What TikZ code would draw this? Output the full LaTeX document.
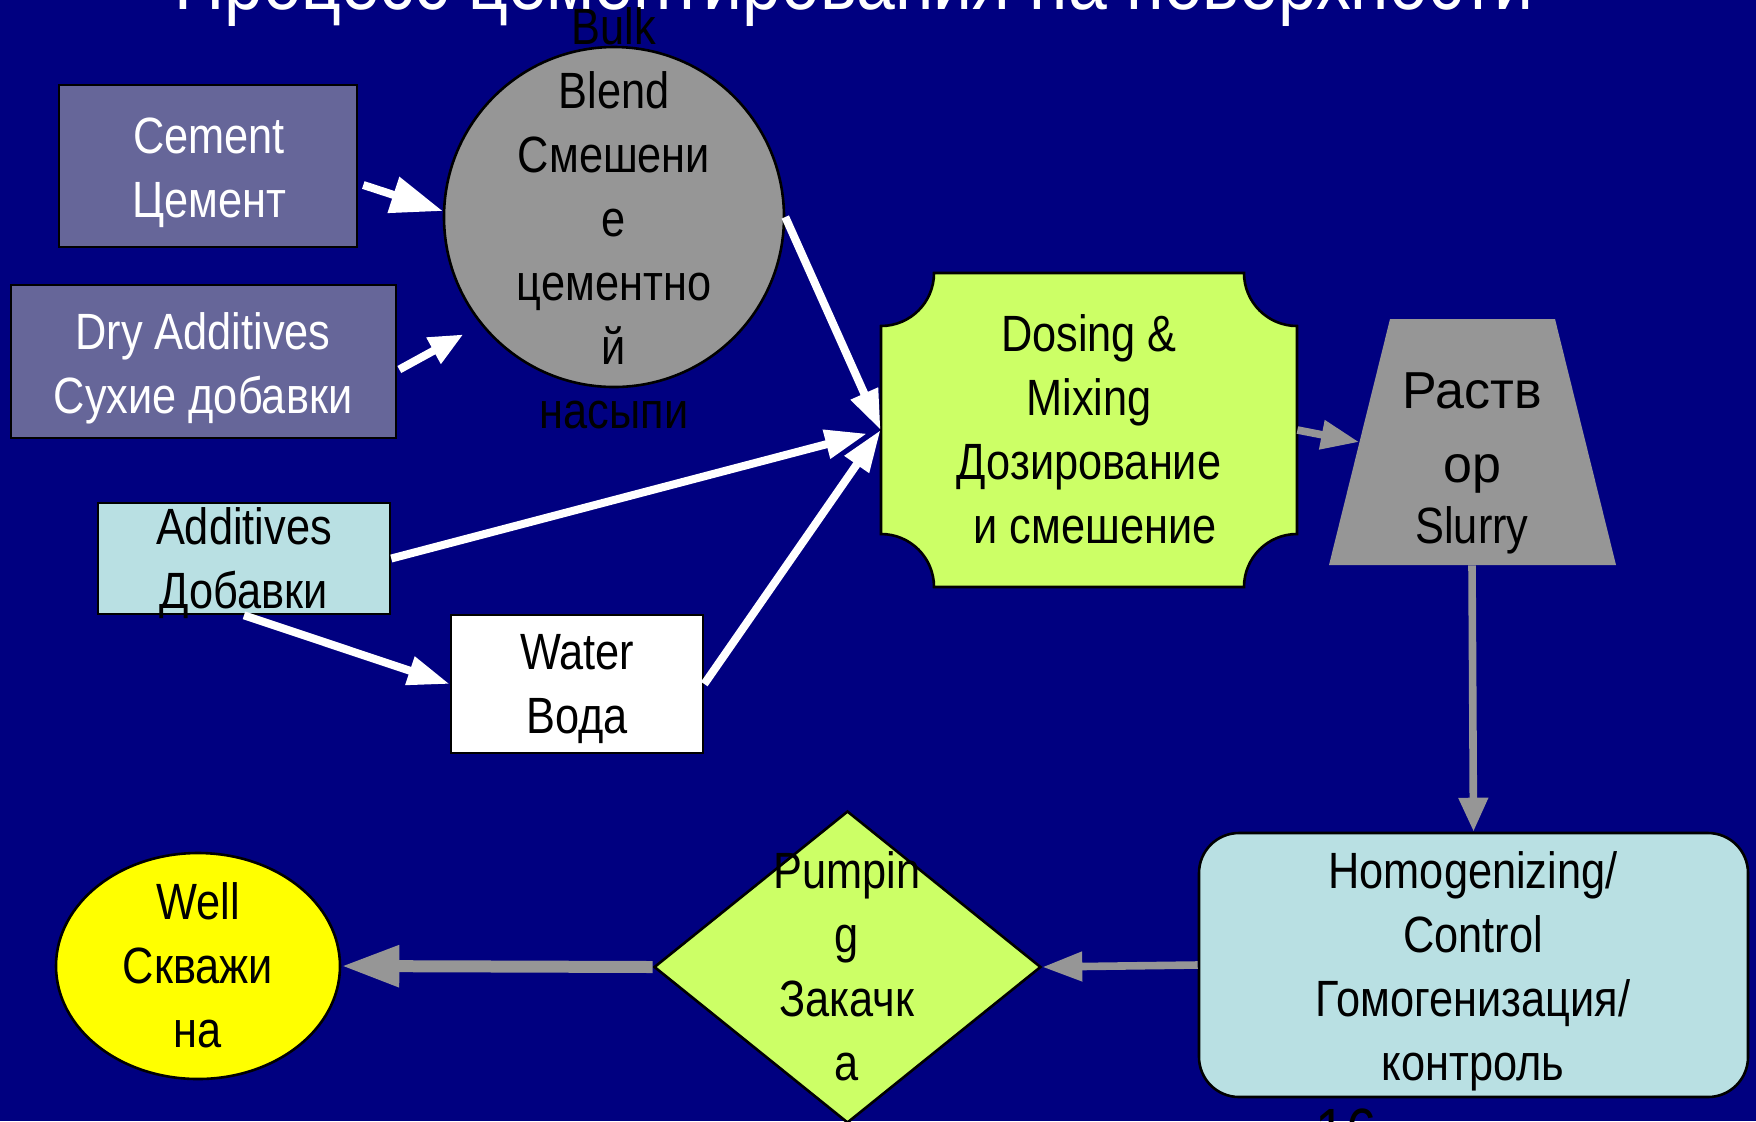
\documentclass[tikz,border=0pt]{standalone}
\usepackage{fontspec}
\setmainfont{Liberation Sans}[FakeStretch=0.85]
\newfontfamily\wideface{Liberation Sans}
\usetikzlibrary{shapes.geometric,arrows.meta,calc}
\definecolor{bgblue}{HTML}{000080}
\definecolor{slate}{HTML}{666699}
\definecolor{pale}{HTML}{B9E0E3}
\definecolor{lime}{HTML}{CCFF66}
\definecolor{gry}{HTML}{969696}
\definecolor{yel}{HTML}{FFFF00}
\newcommand\bodyfont{\fontsize{25.5pt}{32pt}\selectfont}
\begin{document}
\begin{tikzpicture}[x=0.5pt,y=-0.5pt,
  box/.style={draw=black,line width=1.3pt,inner sep=0pt},
  txt/.style={align=center,anchor=base,inner sep=0pt,font=\bodyfont},
  wline/.style={draw=white,line width=4pt},
  gline/.style={draw=gry,line width=3.8pt}]
\useasboundingbox (0,0) rectangle (1756,1121);
\clip (0,0) rectangle (1756,1121);
\fill[bgblue] (0,0) rectangle (1756,1121);

% shapes
\node[box,fill=slate,minimum width=149pt,minimum height=81pt] (cement) at (208,166) {};
\node[box,fill=slate,minimum width=192.5pt,minimum height=76.5pt] (dry) at (203.5,361.5) {};
\node[box,circle,fill=gry,minimum size=170pt] (blend) at (614,217) {};
\node[box,fill=pale,minimum width=146pt,minimum height=55.5pt] (additives) at (244,558.5) {};
\node[box,fill=white,minimum width=126pt,minimum height=69pt] (water) at (577,684) {};
\node[inner sep=0pt,minimum width=208pt,minimum height=157pt] (dosing) at (1089,430) {};
\filldraw[fill=lime,draw=black,line width=1.3pt]
  (934,273) -- (1244,273) arc[start angle=180,end angle=270,radius=26.5pt]
  -- (1297,534) arc[start angle=90,end angle=180,radius=26.5pt]
  -- (934,587) arc[start angle=0,end angle=90,radius=26.5pt]
  -- (881,326) arc[start angle=270,end angle=360,radius=26.5pt] -- cycle;
\node[inner sep=0pt,minimum width=112.5pt,minimum height=123pt] (slurry) at (1472,442) {};
\fill[gry] (1329,565) -- (1390,319) -- (1555,319) -- (1616,565) -- cycle;
\node[box,fill=pale,rounded corners=20pt,minimum width=274.5pt,minimum height=132pt] (homog) at (1473.5,965) {};
\node[box,diamond,fill=lime,minimum width=193.5pt,minimum height=156pt] (pump) at (847.5,967) {};
\node[box,ellipse,fill=yel,minimum width=142pt,minimum height=113pt] (well) at (198,966) {};

% texts (anchored at the baseline of the last line)
\node[anchor=base,inner sep=0pt,text=white,font=\fontsize{41pt}{49pt}\selectfont] (title) at (854,9) {Процесс цементирования на поверхности};
\node[txt,text=white] (cementT) at (209,217) {Cement\\Цемент};
\node[txt,text=white] (dryT) at (203,413) {Dry Additives\\Сухие добавки};
\node[txt] (blendT) at (614,428) {Bulk\\Blend\\Смешени\\е\\цементно\\й\\насыпи};
\node[txt] (additivesT) at (244,608) {Additives\\Добавки};
\node[txt] (waterT) at (577,733) {Water\\Вода};
\node[txt] (dosingT) at (1089,543) {Dosing \&\\Mixing\\Дозирование\\\hspace*{6pt}и смешение};
\node[txt,font=\wideface\fontsize{26pt}{37pt}\selectfont] (slurryT) at (1472,482) {Раств\\ор};
\node[txt] (slurryT2) at (1472,543) {Slurry};
\node[txt] (homogT) at (1473,1080) {Homogenizing/\\Control\\Гомогенизация/\\контроль};
\node[txt] (pumpT) at (847,1080) {Pumpin\\g\\Закачк\\а};
\node[txt] (wellT) at (198,1047) {Well\\Скважи\\на};
\node[anchor=base,inner sep=0pt,font=\fontsize{32pt}{38pt}\selectfont] (pagenum) at (1346,1153) {16};

% white connectors
\draw[wline,-{Triangle[length=26pt,width=18pt]}] ($(cement.east)+(5,19)$) -- (blend.178);
\draw[wline,shorten >=10pt,-{Triangle[length=17pt,width=14pt]}] ($(dry.east)+(2,8)$) -- (blend.219);
\draw[wline,-{Triangle[length=20pt,width=14pt]}] (blend.east) -- (dosing.west);
\draw[wline,shorten >=7pt,-{Triangle[length=21pt,width=14pt]}] (additives.east) -- (dosing.west);
\draw[wline,-{Triangle[length=21pt,width=14pt]}] (additives.south) -- (water.west);
\draw[wline,-{Triangle[length=21pt,width=14pt]}] (water.east) -- (dosing.west);

% grey connectors
\draw[gline,-{Triangle[length=19pt,width=14pt]}] (dosing.east) -- (slurry.west);
\draw[gline,-{Triangle[length=17pt,width=14pt]}] (slurry.south) -- (homog.north);
\draw[gline,-{Triangle[length=20pt,width=14pt]}] (homog.west) -- (pump.east);
\draw[gline,line width=6pt,-{Triangle[length=29pt,width=19.5pt]}] (pump.west) -- (well.east);
\end{tikzpicture}
\end{document}
